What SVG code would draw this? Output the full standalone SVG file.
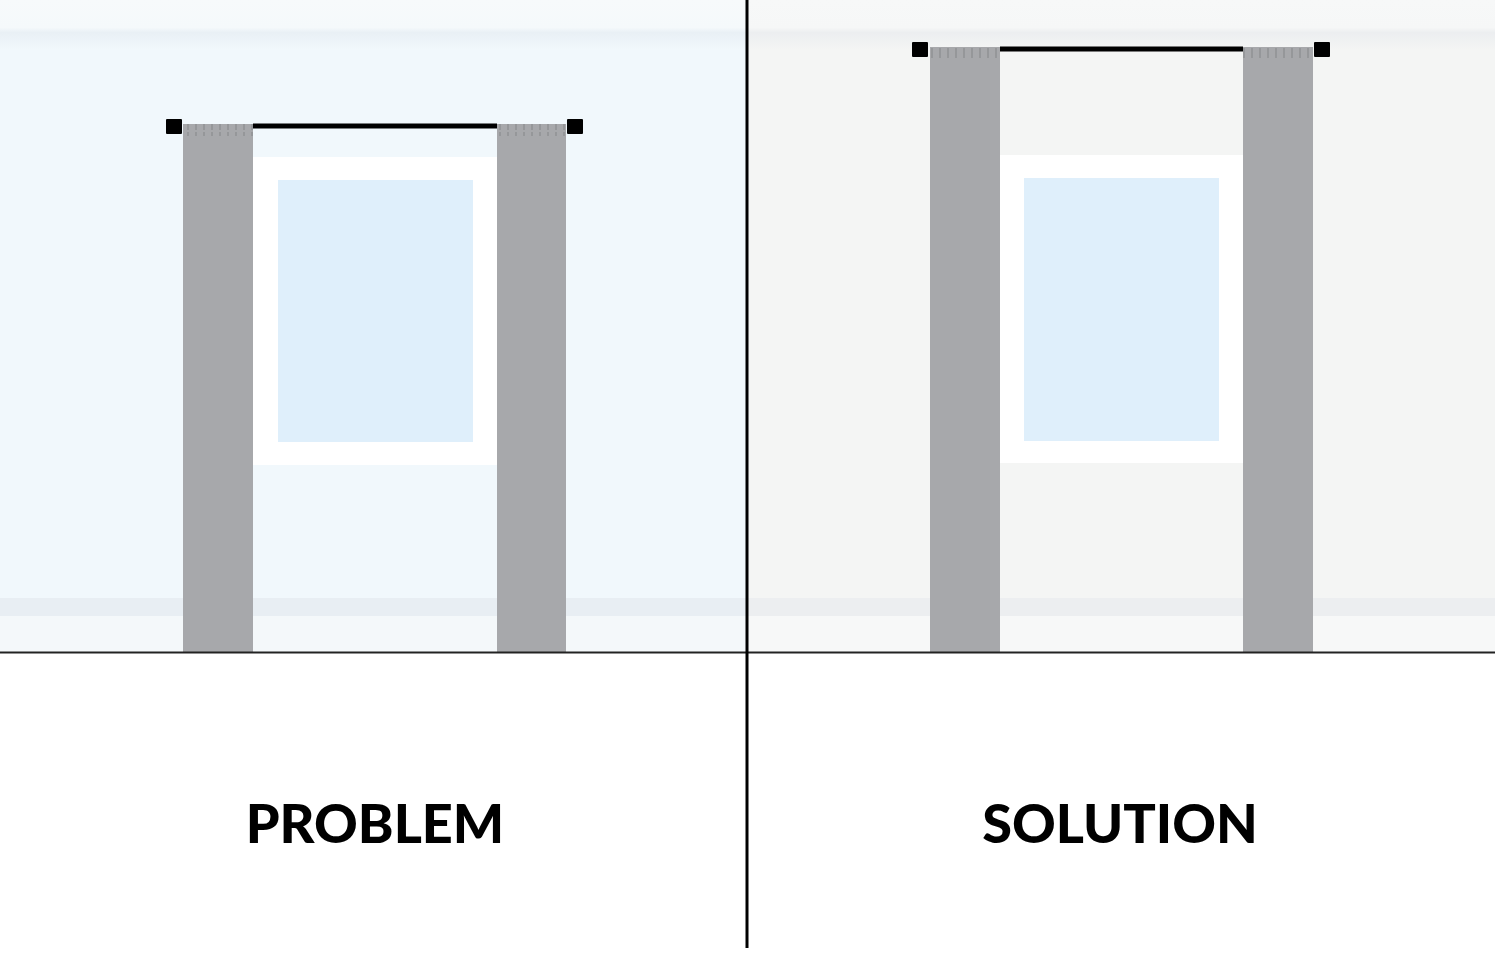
<svg xmlns="http://www.w3.org/2000/svg" width="1500" height="975" viewBox="0 0 1500 975">
<style>
.cur{fill:#a7a8ab}
.frame{fill:#ffffff}
.glass{fill:#dfeffb}
.rod{stroke:#000;stroke-width:5}
.cap{fill:#000}
.tick{stroke:#8a8b8e;stroke-width:1.2}
.lbl{font-family:"Lato","Liberation Sans",sans-serif;font-weight:900;font-size:54px;fill:#000;text-anchor:middle}
</style>
<defs>
<linearGradient id="topL" x1="0" y1="0" x2="0" y2="1">
<stop offset="0" stop-color="#f7fafb"/><stop offset="0.55" stop-color="#f5f9fb"/><stop offset="0.65" stop-color="#e9f0f5"/><stop offset="1" stop-color="#f1f8fc"/>
</linearGradient>
<linearGradient id="topR" x1="0" y1="0" x2="0" y2="1">
<stop offset="0" stop-color="#f7f8f8"/><stop offset="0.55" stop-color="#f6f7f7"/><stop offset="0.65" stop-color="#eceef0"/><stop offset="1" stop-color="#f4f5f4"/>
</linearGradient>
<pattern id="ticks" width="8" height="12" patternUnits="userSpaceOnUse">
<line x1="4" y1="0" x2="4" y2="10" class="tick"/>
</pattern>
</defs>
<rect width="1500" height="975" fill="#fff"/>
<g id="left-panel">
<rect x="0" y="0" width="747" height="652" fill="#f1f8fc"/>
<rect x="0" y="0" width="747" height="50" fill="url(#topL)"/>
<rect x="0" y="598" width="747" height="18" fill="#e8eef3"/>
<rect x="0" y="616" width="747" height="36" fill="#f4f8fa"/>
<rect class="frame" x="253" y="157" width="244" height="308"/>
<rect class="glass" x="278" y="180" width="195" height="262"/>
<rect class="cur" x="183" y="124" width="70" height="528"/>
<rect class="cur" x="497" y="124" width="69" height="528"/>
<rect x="183" y="124" width="70" height="12" fill="url(#ticks)"/>
<rect x="497" y="124" width="69" height="12" fill="url(#ticks)"/>
<line class="rod" x1="253" y1="126" x2="497" y2="126"/>
<rect class="cap" x="166" y="119" width="16" height="15" rx="1"/>
<rect class="cap" x="567" y="119" width="16" height="15" rx="1"/>
</g>
<g id="right-panel">
<rect x="748" y="0" width="747" height="652" fill="#f4f5f4"/>
<rect x="748" y="0" width="747" height="50" fill="url(#topR)"/>
<rect x="748" y="598" width="747" height="18" fill="#eceef0"/>
<rect x="748" y="616" width="747" height="36" fill="#f7f8f8"/>
<rect class="frame" x="1000" y="155" width="243" height="308"/>
<rect class="glass" x="1024" y="178" width="195" height="263"/>
<rect class="cur" x="930" y="47" width="70" height="605"/>
<rect class="cur" x="1243" y="47" width="70" height="605"/>
<rect x="930" y="47" width="70" height="12" fill="url(#ticks)"/>
<rect x="1243" y="47" width="70" height="12" fill="url(#ticks)"/>
<line class="rod" x1="1000" y1="49" x2="1243" y2="49"/>
<rect class="cap" x="912" y="42" width="16" height="15" rx="1"/>
<rect class="cap" x="1314" y="42" width="16" height="15" rx="1"/>
</g>
<g id="dividers">
<line x1="0" y1="652.5" x2="1495" y2="652.5" stroke="#222" stroke-width="2"/>
<line x1="747" y1="0" x2="747" y2="948" stroke="#000" stroke-width="3"/>
</g>
<text class="lbl" x="375" y="843">PROBLEM</text>
<text class="lbl" x="1120" y="843">SOLUTION</text>
</svg>
